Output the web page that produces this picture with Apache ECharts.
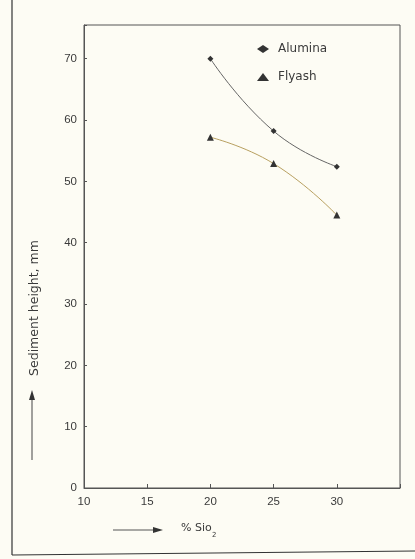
<!DOCTYPE html>
<html><head><meta charset="utf-8">
<script src="https://cdn.jsdelivr.net/npm/echarts@6/dist/echarts.min.js"></script>
<style>html,body{margin:0;padding:0;background:#fdfcf4;}#c{width:415px;height:559px;}</style>
</head><body><div id="c"></div>
<script>
const sio2 = [20, 25, 30];
const alumina = [70, 58.2, 52.4];
const flyash = [57.2, 52.9, 44.5];
const seriesNames = ['Alumina', 'Flyash'];
const xTicks = [10, 15, 20, 25, 30];
const yTitle = 'Sediment height, mm';

const chart = echarts.init(document.getElementById('c'));
const ink = '#3a3a3a';
chart.setOption({
  backgroundColor: '#fdfcf4',
  animation: false,
  grid: {left: 84, right: 15, top: 25, bottom: 71, show: true, borderColor: '#555', borderWidth: 1, backgroundColor: 'transparent'},
  legend: {
    orient: 'vertical', left: 252, top: 38, itemGap: 16, itemWidth: 12, itemHeight: 8,
    textStyle: {color: ink, fontFamily: 'DejaVu Sans', fontSize: 12, padding: [0,0,0,4]},
    data: [
      {name: seriesNames[0], icon: 'diamond'},
      {name: seriesNames[1], icon: 'triangle'}
    ]
  },
  xAxis: {
    type: 'value', min: 10, max: 35, interval: 5,
    axisLine: {lineStyle: {color: '#555'}},
    axisTick: {inside: true, length: 4, lineStyle: {color: '#555'}},
    splitLine: {show: false},
    axisLabel: {color: ink, fontSize: 11.5, fontFamily: 'Liberation Sans, Arial', margin: 8,
      formatter: v => xTicks.includes(v) ? String(v) : ''}
  },
  yAxis: {
    type: 'value', min: 0, max: 75.5, interval: 10,
    axisLine: {lineStyle: {color: '#555'}},
    axisTick: {inside: true, length: 3, lineStyle: {color: '#555'}},
    splitLine: {show: false},
    axisLabel: {color: ink, fontSize: 11.5, fontFamily: 'Liberation Sans, Arial', margin: 7,
      formatter: v => (v % 10 === 0 ? String(v) : '')}
  },
  series: [
    {name: seriesNames[0], type: 'line', smooth: true, symbol: 'diamond', symbolSize: 6,
      data: sio2.map((x, i) => [x, alumina[i]]),
      lineStyle: {color: '#666', width: 1}, itemStyle: {color: '#333'}},
    {name: seriesNames[1], type: 'line', smooth: true, symbol: 'triangle', symbolSize: 7,
      data: sio2.map((x, i) => [x, flyash[i]]),
      lineStyle: {color: '#b8a060', width: 1}, itemStyle: {color: '#333'}}
  ],
  graphic: [
    {type: 'text', x: 35, y: 308, rotation: Math.PI / 2,
      style: {text: yTitle, fill: ink, font: '12.5px DejaVu Sans', align: 'center', verticalAlign: 'middle'}},
    {type: 'line', shape: {x1: 32, y1: 460, x2: 32, y2: 398}, style: {stroke: '#444', lineWidth: 1}},
    {type: 'polygon', shape: {points: [[32, 390], [29, 400], [35, 400]]}, style: {fill: '#333'}},
    {type: 'line', shape: {x1: 113, y1: 530, x2: 155, y2: 530}, style: {stroke: '#555', lineWidth: 1}},
    {type: 'polygon', shape: {points: [[163, 530], [153, 527], [153, 533]]}, style: {fill: '#333'}},
    {type: 'text', left: 181, top: 523, style: {text: '% Sio', fill: ink, font: '11px DejaVu Sans'}},
    {type: 'text', left: 212, top: 532, style: {text: '2', fill: ink, font: '7px DejaVu Sans'}},
    {type: 'line', shape: {x1: 12, y1: 0, x2: 12, y2: 555}, style: {stroke: '#333', lineWidth: 1.2}},
    {type: 'line', shape: {x1: 12, y1: 555, x2: 415, y2: 551}, style: {stroke: '#333', lineWidth: 1.2}}
  ]
});
</script></body></html>
